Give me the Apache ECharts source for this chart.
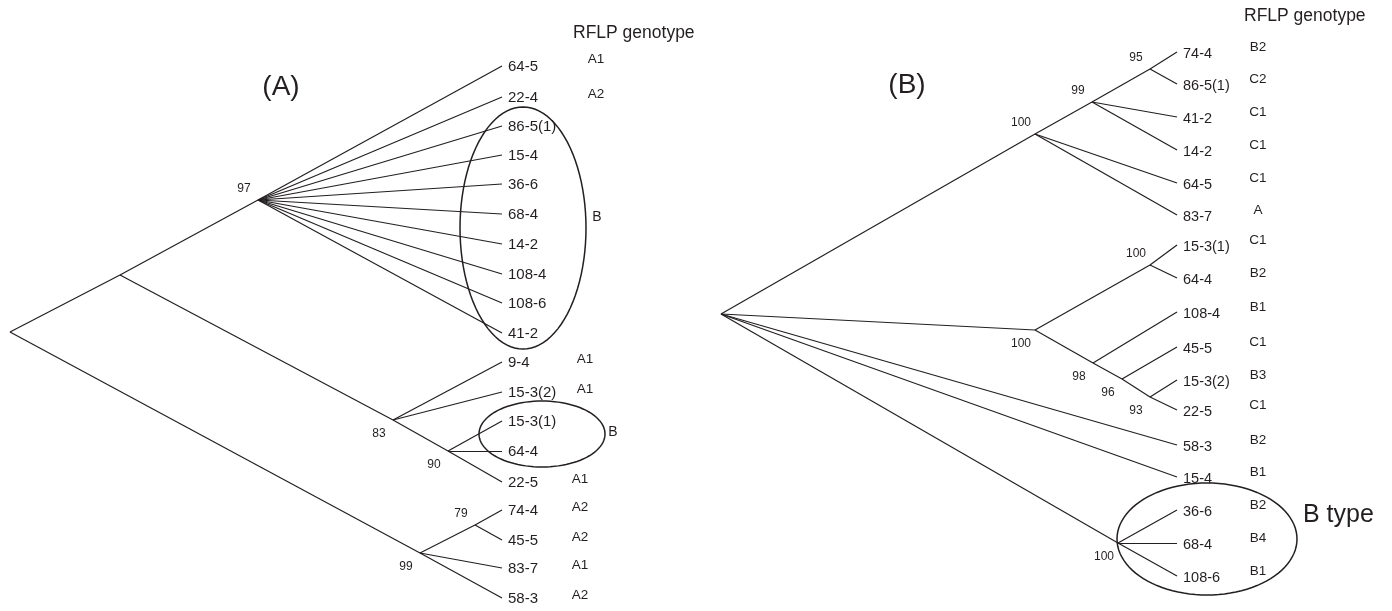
<!DOCTYPE html>
<html>
<head>
<meta charset="utf-8">
<script src="https://cdn.jsdelivr.net/npm/echarts@6/dist/echarts.min.js"></script>
<style>
html,body{margin:0;padding:0;background:#fff;}
#chart{width:1392px;height:611px;}
</style>
</head>
<body>
<div id="chart"></div>
<script>
// ---------------- Panel (A) ----------------
const leavesA = ['64-5','22-4','86-5(1)','15-4','36-6','68-4','14-2','108-4','108-6','41-2','9-4','15-3(2)','15-3(1)','64-4','22-5','74-4','45-5','83-7','58-3'];
const leafYA = [66,97,126,155,184,214,244,274,303,333,362,392,421,451,482,510,540,568,598];
const leafParentA = ['n97','n97','n97','n97','n97','n97','n97','n97','n97','n97','n83','n83','n90','n90','n90','n79','n79','n99','n99'];
const genotypeA = ['A1','A2','','','','','','','','','A1','A1','','','A1','A2','A2','A1','A2'];
const tipXA = 502;
const innerA = ['rootA','n1','n97','n83','n90','n99','n79'];
const innerXA = [10,120,258,393,448,420,475];
const innerYA = [332,275,200,420,451,553,525];
const innerParentA = [null,'rootA','n1','n1','n83','rootA','n99'];
const supportA = ['','','97','83','90','99','79'];

// ---------------- Panel (B) ----------------
const leavesB = ['74-4','86-5(1)','41-2','14-2','64-5','83-7','15-3(1)','64-4','108-4','45-5','15-3(2)','22-5','58-3','15-4','36-6','68-4','108-6'];
const leafYB = [52,84,117,150,183,215,245,278,312,347,380,410,445,477,510,543,576];
const leafParentB = ['n95','n95','n99','n99','n100a','n100a','n100b','n100b','n98','n96','n93','n93','rootB','rootB','n100c','n100c','n100c'];
const genotypeB = ['B2','C2','C1','C1','C1','A','C1','B2','B1','C1','B3','C1','B2','B1','B2','B4','B1'];
const tipXB = 1177;
const innerB = ['rootB','n100a','n99','n95','n100m','n100b','n98','n96','n93','n100c'];
const innerXB = [721,1035,1092,1150,1035,1150,1093,1122,1150,1118];
const innerYB = [314,134,102,69,330,265,363,379,397,543];
const innerParentB = [null,'rootB','n100a','n99','rootB','n100m','n100m','n98','n96','rootB'];
const supportB = ['','100','99','95','100','100','98','96','93','100'];

// ---------------- Annotations ----------------
const groupEllipses = [[523,228,63,121],[542,434,63,33],[1207,539,90,56]];
const groupLabels = ['B','B','B type'];
const groupLabelXY = [[597,217],[613,432],[1303,515]];
const panelTitles = ['(A)','(B)'];
const panelTitleXY = [[281,87],[907,85]];
const genoHeaderXY = [[573,33],[1244,16]];

const INK = '#231f20';
const FONT = '"Liberation Sans", Arial, Helvetica, sans-serif';

function buildTree(inner, ix, iy, iparent, leaves, ly, lparent, tipX) {
  const pos = {};
  inner.forEach((n, i) => pos[n] = [ix[i], iy[i]]);
  const edges = [];
  inner.forEach((n, i) => { if (iparent[i]) edges.push({coords: [pos[iparent[i]], pos[n]]}); });
  leaves.forEach((l, i) => edges.push({coords: [pos[lparent[i]], [tipX, ly[i]]]}));
  return {pos, edges};
}
const treeA = buildTree(innerA, innerXA, innerYA, innerParentA, leavesA, leafYA, leafParentA, tipXA);
const treeB = buildTree(innerB, innerXB, innerYB, innerParentB, leavesB, leafYB, leafParentB, tipXB);

// text items: [x, y, text, fontSize, align, weight]
const texts = [];
leavesA.forEach((l, i) => texts.push([tipXA + 6, leafYA[i] + 1, l, 15, 'left']));
leavesB.forEach((l, i) => texts.push([tipXB + 6, leafYB[i] + 2, l, 14.5, 'left']));
genotypeA.forEach((g, i) => { if (g) texts.push([i < 2 ? 596 : (i < 12 ? 585 : 580), leafYA[i] - (i === 0 ? 7 : 3), g, 13.5, 'center']); });
genotypeB.forEach((g, i) => texts.push([1258, leafYB[i] - 5, g, 13.5, 'center']));
function supportTexts(inner, ix, iy, iparent, sup, pos) {
  inner.forEach((n, i) => {
    if (!sup[i]) return;
    const py = pos[iparent[i]][1];
    const below = iy[i] > py;
    texts.push([ix[i] - 14, iy[i] + (below ? 14 : -11), sup[i], 12, 'center']);
  });
}
supportTexts(innerA, innerXA, innerYA, innerParentA, supportA, treeA.pos);
supportTexts(innerB, innerXB, innerYB, innerParentB, supportB, treeB.pos);
groupLabels.forEach((g, i) => texts.push([groupLabelXY[i][0], groupLabelXY[i][1], g, g.length > 1 ? 25 : 14, g.length > 1 ? 'left' : 'center']));
panelTitles.forEach((t, i) => texts.push([panelTitleXY[i][0], panelTitleXY[i][1], t, 28, 'center']));
genoHeaderXY.forEach((p) => texts.push([p[0], p[1], 'RFLP genotype', 17.5, 'left']));

const chart = echarts.init(document.getElementById('chart'), null, {renderer: 'canvas'});
chart.setOption({
  backgroundColor: '#ffffff',
  animation: false,
  grid: {left: 0, top: 0, width: 1392, height: 611, containLabel: false},
  xAxis: {type: 'value', min: 0, max: 1392, show: false},
  yAxis: {type: 'value', min: 0, max: 611, inverse: true, show: false},
  series: [
    {
      type: 'lines', coordinateSystem: 'cartesian2d', polyline: false, silent: true,
      lineStyle: {color: INK, width: 1.2, opacity: 1},
      data: treeA.edges.concat(treeB.edges)
    },
    {
      type: 'custom', coordinateSystem: 'cartesian2d', silent: true,
      data: groupEllipses,
      renderItem: function (params, api) {
        const cx = api.value(0), cy = api.value(1), rx = api.value(2), ry = api.value(3);
        const pts = [];
        for (let k = 0; k < 96; k++) {
          const t = k / 96 * Math.PI * 2;
          pts.push(api.coord([cx + rx * Math.cos(t), cy + ry * Math.sin(t)]));
        }
        return {type: 'polygon', shape: {points: pts}, style: {fill: 'none', stroke: INK, lineWidth: 1.5}};
      }
    },
    {
      type: 'custom', coordinateSystem: 'cartesian2d', silent: true,
      data: texts.map(t => [t[0], t[1]]),
      renderItem: function (params, api) {
        const t = texts[params.dataIndex];
        const p = api.coord([api.value(0), api.value(1)]);
        return {type: 'text', x: p[0], y: p[1],
          style: {text: t[2], fill: INK, font: t[3] + 'px ' + FONT, align: t[4], verticalAlign: 'middle'}};
      }
    }
  ]
});
</script>
</body>
</html>
